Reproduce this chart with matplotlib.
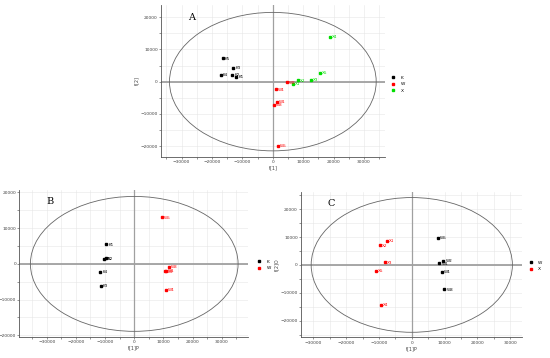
import numpy as np
import matplotlib
matplotlib.use("Agg")
import matplotlib.pyplot as plt
from matplotlib.patches import Ellipse
from matplotlib.ticker import MultipleLocator

# panel A
a_k_lab = ["K1", "K2", "K3", "K4", "K5"]
a_k_x = [-12000, -13400, -13000, -17050, -16400]
a_k_y = [1560, 2180, 4250, 2070, 7260]
a_w_lab = ["W1", "W2", "W3", "W4", "W5"]
a_w_x = [1320, 4730, 440, 880, 1760]
a_w_y = [-6330, -200, -7260, -2390, -20000]
a_x_lab = ["X1", "X2", "X3", "X4", "X5"]
a_x_x = [6490, 8140, 12500, 18800, 15600]
a_x_y = [-620, 410, 620, 13900, 2800]

# panel B
b_k_lab = ["K1", "K2", "K3", "K4", "K5"]
b_k_x = [-9600, -9800, -11550, -11700, -10400]
b_k_y = [5500, 1600, -6070, -2240, 1400]
b_w_lab = ["W1", "W2", "W3", "W4", "W5"]
b_w_x = [10870, 10400, 12000, 10870, 9500]
b_w_y = [-1960, -2050, -840, -7280, 13060]

# panel C
c_w_lab = ["W1", "W2", "W3", "W4", "W5"]
c_w_x = [8440, 9660, 9970, 9150, 8030]
c_w_y = [600, 1440, -8740, -2390, 9815]
c_x_lab = ["X1", "X2", "X3", "X4", "X5"]
c_x_x = [-7530, -9660, -8240, -9360, -10880]
c_x_y = [8740, 7060, 960, -14360, -2030]

fig = plt.figure(figsize=(5.5, 3.58), dpi=100)


def panel(rect, groups, ell, xlim, ylim, tag, xlab, ylab, leg_xy):
    ax = fig.add_axes(rect)
    ax.set_xlim(xlim)
    ax.set_ylim(ylim)
    for s in ["top", "right"]:
        ax.spines[s].set_visible(False)
    for s in ["left", "bottom"]:
        ax.spines[s].set_color("#555555")
        ax.spines[s].set_linewidth(0.6)
    ax.xaxis.set_major_locator(MultipleLocator(10000))
    ax.yaxis.set_major_locator(MultipleLocator(10000))
    ax.xaxis.set_minor_locator(MultipleLocator(5000))
    ax.yaxis.set_minor_locator(MultipleLocator(5000))
    ax.grid(True, which="both", color="#e6e6e6", lw=0.4)
    ax.set_axisbelow(True)
    ax.tick_params(which="both", labelsize=3.2, length=1.5, width=0.4,
                   colors="#444444", pad=0.8)
    ax.axhline(0, color="#a0a0a0", lw=1.3, zorder=1)
    ax.axvline(0, color="#a0a0a0", lw=0.9, zorder=1)
    ax.add_patch(Ellipse((0, 0), 2 * ell[0], 2 * ell[1], fill=False,
                         ec="#666666", lw=0.6, zorder=2))
    handles = []
    for xs, ys, labs, col, name in groups:
        h, = ax.plot(xs, ys, "s", color=col, ms=1.6, ls="none", zorder=3,
                     label=name)
        handles.append(h)
        for x, y, t in zip(xs, ys, labs):
            ax.annotate(t, (x, y), xytext=(1.5, -1), textcoords="offset points",
                        fontsize=3, color=col, zorder=4)
    ax.set_xlabel(xlab, fontsize=3.5, labelpad=1, color="#444444")
    ax.set_ylabel(ylab, fontsize=3.5, labelpad=1, color="#444444")
    ax.text(0.12, 0.95, tag, transform=ax.transAxes, fontsize=7,
            family="DejaVu Serif", va="top")
    fig.legend(handles=handles, loc="center left", bbox_to_anchor=leg_xy,
               frameon=False, fontsize=3.2, handlelength=0.6,
               handletextpad=1.4, labelspacing=0.5, markerscale=0.9)
    return ax


panel([0.2927, 0.5615, 0.4073, 0.4246],
      [(a_k_x, a_k_y, a_k_lab, "black", "K"),
       (a_w_x, a_w_y, a_w_lab, "#ff0000", "W"),
       (a_x_x, a_x_y, a_x_lab, "#00dd00", "X")],
      (34000, 21500), (-36800, 36900), (-23400, 23800), "A",
      "t[1]", "t[2]", (0.705, 0.765))

panel([0.0351, 0.0595, 0.4158, 0.4098],
      [(b_k_x, b_k_y, b_k_lab, "black", "K"),
       (b_w_x, b_w_y, b_w_lab, "#ff0000", "W")],
      (35600, 18900), (-39400, 39000), (-20400, 20700), "B",
      "t[1]P", "t[2]", (0.462, 0.26))

panel([0.5473, 0.0578, 0.4013, 0.4067],
      [(c_w_x, c_w_y, c_w_lab, "black", "W"),
       (c_x_x, c_x_y, c_x_lab, "#ff0000", "X")],
      (30700, 24200), (-33800, 33550), (-26000, 26300), "C",
      "t[1]P", "t[2]O", (0.955, 0.257))

fig.savefig("out.png", dpi=100)
